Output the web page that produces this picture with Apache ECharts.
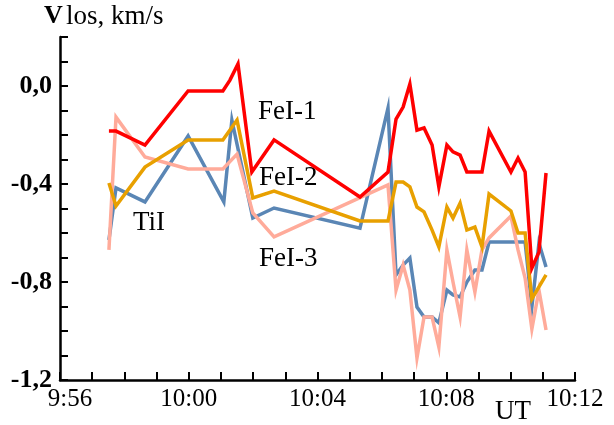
<!DOCTYPE html>
<html><head><meta charset="utf-8">
<script src="https://cdn.jsdelivr.net/npm/echarts@6/dist/echarts.min.js"></script>
<style>html,body{margin:0;padding:0;background:#fff}#c{width:614px;height:425px}</style>
</head><body><div id="c"></div>
<script>
// time in minutes after 09:56 UT
var xTickLabels = ['9:56', '10:00', '10:04', '10:08', '10:12'];
var yTickLabels = ['0,0', '-0,4', '-0,8', '-1,2'];
var yTickValues = [0, -4, -8, -12]; // in tenths

var feI1Time = [1.52,1.74,2.64,3.98,5.06,5.28,5.53,5.96,6.65,9.32,10.19,10.44,10.66,10.87,11.09,11.31,11.56,11.77,12.02,12.21,12.43,12.64,13.11,13.33,14.01,14.23,14.45,14.66,14.88,15.10];
var feI1 = [-0.184,-0.184,-0.241,-0.02,-0.02,0.024,0.09,-0.351,-0.22,-0.453,-0.351,-0.135,-0.086,0.008,-0.18,-0.171,-0.241,-0.412,-0.241,-0.269,-0.282,-0.351,-0.351,-0.184,-0.351,-0.294,-0.351,-0.743,-0.678,-0.355];

var tiITime = [1.52,1.74,2.64,3.98,5.09,5.34,5.99,6.65,9.32,10.19,10.44,10.66,10.87,11.09,11.31,11.56,11.77,12.02,12.21,12.43,12.64,12.89,13.11,13.33,14.45,14.66,14.88,15.10];
var tiI = [-0.629,-0.416,-0.473,-0.204,-0.473,-0.139,-0.539,-0.498,-0.580,-0.09,-0.771,-0.731,-0.702,-0.902,-0.943,-0.943,-0.967,-0.833,-0.853,-0.861,-0.80,-0.751,-0.751,-0.637,-0.637,-0.902,-0.641,-0.739];

var feI2Time = [1.52,1.74,2.64,3.98,5.06,5.50,5.99,6.65,9.32,10.19,10.44,10.66,10.87,11.09,11.31,11.56,11.77,12.02,12.21,12.43,12.64,12.89,13.11,13.33,14.01,14.23,14.45,14.66,14.88,15.10];
var feI2 = [-0.396,-0.49,-0.331,-0.22,-0.22,-0.139,-0.457,-0.429,-0.551,-0.551,-0.392,-0.392,-0.412,-0.494,-0.514,-0.588,-0.657,-0.494,-0.539,-0.478,-0.588,-0.576,-0.657,-0.441,-0.51,-0.60,-0.60,-0.869,-0.82,-0.771];

var feI3Time = [1.52,1.74,2.64,3.98,5.06,5.50,5.99,6.65,10.19,10.44,10.66,10.87,11.09,11.31,11.56,11.77,12.02,12.21,12.43,12.64,12.89,13.11,13.33,14.01,14.23,14.45,14.66,14.88,15.10];
var feI3 = [-0.669,-0.127,-0.29,-0.339,-0.339,-0.278,-0.518,-0.616,-0.404,-0.833,-0.731,-0.833,-1.11,-0.943,-0.943,-1.065,-0.669,-0.80,-0.943,-0.669,-0.841,-0.669,-0.62,-0.531,-0.669,-0.784,-0.992,-0.833,-0.996];

function pairs(t, v) { return t.map(function (x, i) { return [x, v[i]]; }); }

var serif = '"Liberation Serif", "DejaVu Serif", serif';
var chart = echarts.init(document.getElementById('c'), null, {renderer: 'canvas'});

function mkLine(name, t, v, color) {
  return {name: name, type: 'line', data: pairs(t, v), showSymbol: false, symbol: 'none',
    lineStyle: {color: color, width: 3.5, join: 'miter'}, itemStyle: {color: color}, animation: false};
}

chart.setOption({
  animation: false,
  grid: {left: 60, right: 39, top: 37, bottom: 45, containLabel: false},
  xAxis: {
    type: 'value', min: 0, max: 16, interval: 1,
    axisLine: {onZero: false, lineStyle: {color: '#000', width: 2.5}},
    axisTick: {inside: true, length: 8, lineStyle: {color: '#000', width: 2}},
    splitLine: {show: false},
    axisLabel: {
      margin: 7, color: '#000', fontFamily: serif, fontSize: 25,
      formatter: function (v) {
        var k = Math.round(v);
        if (k % 4 !== 0) return '';
        var s = xTickLabels[k / 4];
        return k === 0 ? '{p|' + s + '}' : s;
      },
      rich: {p: {fontFamily: serif, fontSize: 25, color: '#000', padding: [0, 0, 0, 20]}}
    }
  },
  yAxis: {
    type: 'value', min: -1.2, max: 0.2, interval: 0.1,
    axisLine: {show: true, onZero: false, lineStyle: {color: '#000', width: 2.5}},
    axisTick: {show: true, inside: true, length: 8, lineStyle: {color: '#000', width: 2}},
    splitLine: {show: false},
    axisLabel: {
      margin: 8, color: '#000', fontFamily: serif, fontSize: 26, fontWeight: 'bold',
      formatter: function (v) {
        var k = Math.round(v * 10);
        var i = yTickValues.indexOf(k);
        return i >= 0 ? yTickLabels[i] : '';
      }
    }
  },
  series: [
    mkLine('TiI', tiITime, tiI, '#5a86b5'),
    mkLine('FeI-3', feI3Time, feI3, '#ffab9a'),
    mkLine('FeI-2', feI2Time, feI2, '#e8a000'),
    mkLine('FeI-1', feI1Time, feI1, '#ff0000')
  ],
  graphic: [
    {type: 'text', left: 44, top: 3, style: {text: '{b|V} {n|los, km/s}', rich: {
      b: {fontFamily: serif, fontSize: 26, fontWeight: 'bold', fill: '#000'},
      n: {fontFamily: serif, fontSize: 27, fill: '#000'}}}},
    {type: 'text', x: 258, y: 98, style: {text: 'FeI-1', font: '27px ' + serif, fill: '#000', verticalAlign: 'top'}},
    {type: 'text', x: 259, y: 164, style: {text: 'FeI-2', font: '27px ' + serif, fill: '#000', verticalAlign: 'top'}},
    {type: 'text', x: 133, y: 209, style: {text: 'TiI', font: '27px ' + serif, fill: '#000', verticalAlign: 'top'}},
    {type: 'text', x: 259, y: 245, style: {text: 'FeI-3', font: '27px ' + serif, fill: '#000', verticalAlign: 'top'}},
    {type: 'text', x: 495, y: 398, style: {text: 'UT', font: '27px ' + serif, fill: '#000', verticalAlign: 'top'}}
  ]
});
</script></body></html>
